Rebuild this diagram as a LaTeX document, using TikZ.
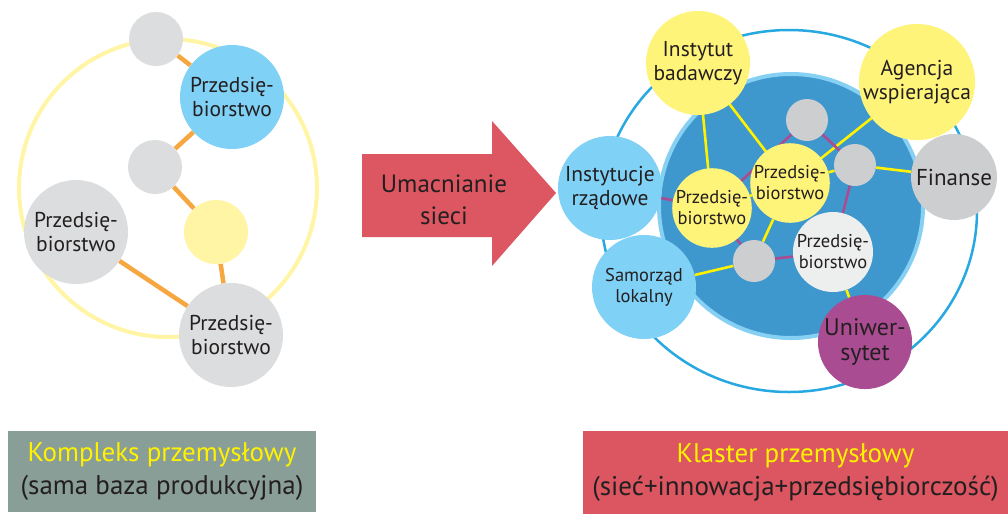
\documentclass[tikz,border=0pt]{standalone}
\usepackage{fontspec}
\setmainfont{PT Sans}
\pgfdeclarelayer{rings}
\pgfdeclarelayer{links}
\pgfsetlayers{rings,links,main}
\begin{document}
\begin{tikzpicture}[x=1pt,y=-1pt,
  every node/.style={font=\fontsize{21.5}{24}\selectfont, text=txt, align=center, inner sep=0pt},
  bub/.style={circle, minimum size=#1, draw=none},
  bgray/.style={bub=#1, fill=lgray},
  bblue/.style={bub=#1, fill=skyb},
  byel/.style={bub=#1, fill=ylw},
  orangeline/.style={draw=orng, line width=4.5pt},
  yline/.style={draw=ylink, line width=2.6pt},
  pline/.style={draw=purp, line width=2.6pt},
  smalltxt/.style={font=\fontsize{18.5}{21}\selectfont},
  boxtxt/.style={font=\fontsize{27}{33}\selectfont}
]
\definecolor{txt}{HTML}{231F20}
\definecolor{lgray}{HTML}{DCDDDE}
\definecolor{mgray}{HTML}{CDCED0}
\definecolor{skyb}{HTML}{80D1F6}
\definecolor{pale}{HTML}{FFF5A5}
\definecolor{orng}{HTML}{F7A73F}
\definecolor{arrred}{HTML}{DC5761}
\definecolor{ringblue}{HTML}{27A8E0}
\definecolor{deepb}{HTML}{3F98CD}
\definecolor{rimb}{HTML}{85D0F3}
\definecolor{ylw}{HTML}{FFF47A}
\definecolor{ylink}{HTML}{FFF200}
\definecolor{purp}{HTML}{AA4C91}
\definecolor{offwhite}{HTML}{EDEEEE}
\definecolor{boxgreen}{HTML}{8A9E98}
\definecolor{boxred}{HTML}{DB5660}
\definecolor{ytext}{HTML}{FFF200}

\useasboundingbox (0,0) rectangle (1008,515);
\begin{pgfonlayer}{rings}
  \fill[white] (0,0) rectangle (1008,515);
\end{pgfonlayer}

% ---------- industrial complex ----------
\node[bgray=54pt] (g1) at (156,39) {};
\node[bblue=104pt] (b1) at (232,97) {Przedsię-\\biorstwo};
\node[bgray=54pt] (g2) at (155,167) {};
\node[bub=64pt, fill=pale] (y1) at (216,232) {};
\node[bgray=104pt] (p2) at (76,232) {Przedsię-\\biorstwo};
\node[bgray=104pt] (p3) at (231,335) {Przedsię-\\biorstwo};

\begin{pgfonlayer}{rings}
  \draw[pale, line width=4pt] (168,188) circle[radius=149];
\end{pgfonlayer}
\begin{pgfonlayer}{links}
  \draw[orangeline] (g1) -- (b1);
  \draw[orangeline] (b1) -- (g2);
  \draw[orangeline] (g2) -- (y1);
  \draw[orangeline] (y1) -- (p3);
  \draw[orangeline] (p2) -- (p3);
\end{pgfonlayer}

% ---------- arrow ----------
\fill[arrred] (362,154) -- (492,154) -- (492,121) -- (556,193)
  -- (492,266) -- (492,237) -- (362,237) -- cycle;
\node[font=\fontsize{25}{32}\selectfont] (arrtxt) at (444,200) {Umacnianie\\sieci};

% ---------- cluster ----------
\node[byel=104pt] (instytut) at (698,63) {Instytut\\badawczy};
\node[byel=104pt] (agencja) at (917,82) {Agencja\\wspierająca};
\node[bblue=104pt] (rzad) at (610,188) {Instytucje\\rządowe};
\node[bub=86pt, fill=mgray, font=\fontsize{23}{25}\selectfont] (finanse) at (954,177) {Finanse};
\node[bblue=104pt, smalltxt] (samorzad) at (644,287) {Samorząd\\lokalny};
\node[bub=93pt, fill=purp, font=\fontsize{24}{25.5}\selectfont] (uni) at (865,342) {Uniwer-\\sytet};
\node[byel=76pt, smalltxt] (pA) at (712,208) {Przedsię-\\biorstwo};
\node[byel=78pt, smalltxt] (pB) at (790,183) {Przedsię-\\biorstwo};
\node[bub=80pt, fill=offwhite, smalltxt] (pC) at (833,252) {Przedsię-\\biorstwo};
\node[bub=42pt, fill=mgray] (gA) at (807,120) {};
\node[bub=42pt, fill=mgray] (gB) at (855,165) {};
\node[bub=42pt, fill=mgray] (gC) at (754,261) {};

\begin{pgfonlayer}{rings}
  \draw[ringblue, line width=2.5pt] (789,211) ellipse[x radius=188, y radius=181];
  \fill[deepb] (791,206) circle[radius=132];
  \draw[rimb, line width=4pt] (791,206) circle[radius=132];
\end{pgfonlayer}
\begin{pgfonlayer}{links}
  \draw[yline] (instytut.center) -- (pA.center);
  \draw[yline] (instytut.center) -- (pB.center);
  \draw[yline] (agencja.center) -- (pB.center);
  \draw[yline] (gB) -- (finanse);
  \draw[yline] (pB) -- (gB);
  \draw[yline] (pA) -- (pB);
  \draw[yline] (pB) -- (gC);
  \draw[yline] (gC) -- (samorzad);
  \draw[yline] (pC) -- (uni);
  \draw[pline] (rzad) -- (pA);
  \draw[pline] (pA.center) -- (gA.center);
  \draw[pline] (gA) -- (gB);
  \draw[pline] (gB) -- (pC);
  \draw[pline] (pA) -- (gC);
  \draw[pline] (gC) -- (pC);
\end{pgfonlayer}

% ---------- captions ----------
\node[fill=boxgreen, minimum width=308pt, minimum height=81pt, boxtxt] (kompleks) at (162,471.5)
  {\textcolor{ytext}{Kompleks przemysłowy}\\(sama baza produkcyjna)};
\node[fill=boxred, minimum width=425pt, minimum height=83pt, boxtxt] (klaster) at (795.5,472.5)
  {\textcolor{ytext}{Klaster przemysłowy}\\(sieć+innowacja+przedsiębiorczość)};
\end{tikzpicture}
\end{document}
